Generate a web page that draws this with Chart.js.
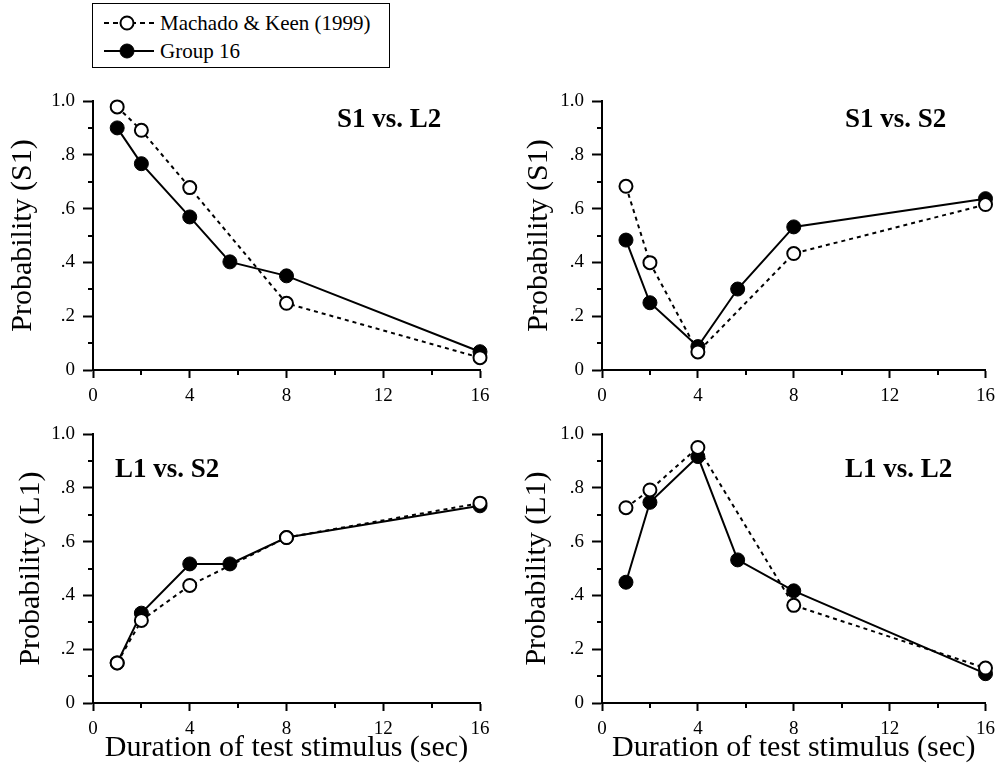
<!DOCTYPE html>
<html>
<head>
<meta charset="utf-8">
<script src="https://cdn.jsdelivr.net/npm/chart.js@4.4.0/dist/chart.umd.min.js"></script>
<style>
html, body { margin: 0; padding: 0; background: #fff; }
body { width: 1002px; height: 774px; position: relative; overflow: hidden;
       font-family: "Liberation Serif", "Times New Roman", serif; }
canvas { position: absolute; }
#legend { position: absolute; left: 92px; top: 3px; width: 296px; height: 63px;
          border: 1.5px solid #000; background: #fff; }
.lrow { position: absolute; left: 0; height: 24px; white-space: nowrap; }
.lrow svg { position: absolute; left: 9px; top: 2px; }
.lrow span { position: absolute; left: 67px; top: 0; font-size: 21px; line-height: 24px; color: #000; }
</style>
</head>
<body>
<div id="legend">
  <div class="lrow" style="top:7px">
    <svg width="54" height="20" viewBox="0 0 54 20">
      <line x1="2" y1="10" x2="52" y2="10" stroke="#000" stroke-width="2" stroke-dasharray="5,4"/>
      <circle cx="25" cy="10" r="6.5" fill="#fff" stroke="#000" stroke-width="2"/>
    </svg>
    <span id="leg0"></span>
  </div>
  <div class="lrow" style="top:35px">
    <svg width="54" height="20" viewBox="0 0 54 20">
      <line x1="2" y1="10" x2="52" y2="10" stroke="#000" stroke-width="2"/>
      <circle cx="25" cy="10" r="7" fill="#000" stroke="#000" stroke-width="1"/>
    </svg>
    <span id="leg1"></span>
  </div>
</div>
<canvas id="c0"></canvas>
<canvas id="c1"></canvas>
<canvas id="c2"></canvas>
<canvas id="c3"></canvas>
<script>
// ---------- data ----------
const seriesNames = ['Machado & Keen (1999)', 'Group 16'];
const durationsMK = [1, 2, 4, 8, 16];
const durationsG16 = [1, 2, 4, 5.66, 8, 16];

const panelTitles = ['S1 vs. L2', 'S1 vs. S2', 'L1 vs. S2', 'L1 vs. L2'];
const yAxisTitles = ['Probability (S1)', 'Probability (S1)', 'Probability (L1)', 'Probability (L1)'];
const xAxisTitle = 'Duration of test stimulus (sec)';

const xTickValues = [0, 4, 8, 12, 16];
const xTickLabels = ['0', '4', '8', '12', '16'];
const yTickValues = [0, 0.2, 0.4, 0.6, 0.8, 1.0];
const yTickLabels = ['0', '.2', '.4', '.6', '.8', '1.0'];
const xMinorTicks = [2, 6, 10, 14];
const yMinorTicks = [0.1, 0.3, 0.5, 0.7, 0.9];

const mkS1L2  = [0.978, 0.891, 0.678, 0.248, 0.046];
const g16S1L2 = [0.900, 0.767, 0.569, 0.402, 0.350, 0.068];

const mkS1S2  = [0.683, 0.399, 0.067, 0.433, 0.615];
const g16S1S2 = [0.483, 0.250, 0.087, 0.301, 0.532, 0.637];

const mkL1S2  = [0.149, 0.307, 0.437, 0.615, 0.743];
const g16L1S2 = [0.149, 0.334, 0.517, 0.517, 0.615, 0.733];

const mkL1L2  = [0.726, 0.792, 0.950, 0.363, 0.130];
const g16L1L2 = [0.449, 0.746, 0.916, 0.532, 0.417, 0.109];

// ---------- helpers ----------
document.getElementById('leg0').textContent = seriesNames[0];
document.getElementById('leg1').textContent = seriesNames[1];

const FONT = '"Liberation Serif", "Times New Roman", serif';
const toPoints = (xs, ys) => xs.map((x, i) => ({ x: x, y: ys[i] }));
const labelFor = (vals, labels) => (v) => {
  const i = vals.findIndex(t => Math.abs(t - v) < 1e-6);
  return i >= 0 ? labels[i] : '';
};

const minorTicksPlugin = {
  id: 'minorTicks',
  afterDraw(chart) {
    const ctx = chart.ctx, xs = chart.scales.x, ys = chart.scales.y, a = chart.chartArea;
    ctx.save();
    ctx.strokeStyle = '#000';
    ctx.lineWidth = 2;
    xMinorTicks.forEach(v => {
      const px = Math.round(xs.getPixelForValue(v));
      ctx.beginPath(); ctx.moveTo(px, a.bottom); ctx.lineTo(px, a.bottom + 5); ctx.stroke();
    });
    yMinorTicks.forEach(v => {
      const py = Math.round(ys.getPixelForValue(v));
      ctx.beginPath(); ctx.moveTo(a.left, py); ctx.lineTo(a.left - 5, py); ctx.stroke();
    });
    ctx.restore();
  }
};

const panelTitlePlugin = {
  id: 'panelTitle',
  afterDraw(chart, args, opts) {
    const ctx = chart.ctx;
    ctx.save();
    ctx.font = 'bold 27px ' + FONT;
    ctx.fillStyle = '#000';
    ctx.textBaseline = 'alphabetic';
    ctx.textAlign = 'left';
    ctx.fillText(opts.text, opts.x, opts.y);
    ctx.restore();
  }
};

// layout of each panel (canvas box, plot area, label offsets)
const panels = [
  { id: 'c0', mk: mkS1L2, g16: g16S1L2, left: 0,   top: 80,  w: 500, h: 330,
    plotLeft: 93,  plotRight: 480, plotTop: 101, plotBottom: 370, yTitlePad: 5,  showX: false,
    titleX: 337, titleY: 47 },
  { id: 'c1', mk: mkS1S2, g16: g16S1S2, left: 500, top: 80,  w: 502, h: 330,
    plotLeft: 602, plotRight: 988, plotTop: 101, plotBottom: 370, yTitlePad: 21, showX: false,
    titleX: 345, titleY: 47 },
  { id: 'c2', mk: mkL1S2, g16: g16L1S2, left: 0,   top: 410, w: 500, h: 364,
    plotLeft: 93,  plotRight: 480, plotTop: 434, plotBottom: 703, yTitlePad: 13, showX: true,
    titleX: 115, titleY: 67 },
  { id: 'c3', mk: mkL1L2, g16: g16L1L2, left: 500, top: 410, w: 502, h: 364,
    plotLeft: 602, plotRight: 988, plotTop: 434, plotBottom: 703, yTitlePad: 19, showX: true,
    titleX: 345, titleY: 67 }
];

panels.forEach((p, idx) => {
  const cv = document.getElementById(p.id);
  cv.width = p.w; cv.height = p.h;
  cv.style.left = p.left + 'px'; cv.style.top = p.top + 'px';
  cv.style.width = p.w + 'px'; cv.style.height = p.h + 'px';

  const yWidth = p.plotLeft - p.left;
  const xHeight = p.top + p.h - p.plotBottom;

  new Chart(cv, {
    type: 'line',
    data: {
      datasets: [
        { label: seriesNames[0], data: toPoints(durationsMK, p.mk),
          borderColor: '#000', borderWidth: 2, borderDash: [4, 4],
          pointRadius: 6.5, pointHoverRadius: 6.5, pointBackgroundColor: '#fff',
          pointBorderColor: '#000', pointBorderWidth: 2, tension: 0, clip: false, fill: false },
        { label: seriesNames[1], data: toPoints(durationsG16, p.g16),
          borderColor: '#000', borderWidth: 2,
          pointRadius: 7, pointHoverRadius: 7, pointBackgroundColor: '#000',
          pointBorderColor: '#000', pointBorderWidth: 1, tension: 0, clip: false, fill: false }
      ]
    },
    options: {
      responsive: false,
      animation: false,
      devicePixelRatio: 1,
      events: [],
      layout: { padding: { left: 0, top: p.plotTop - p.top, right: p.left + p.w - p.plotRight, bottom: 0 } },
      plugins: {
        legend: { display: false },
        tooltip: { enabled: false },
        panelTitle: { text: panelTitles[idx], x: p.titleX, y: p.titleY }
      },
      scales: {
        x: {
          type: 'linear', min: 0, max: 16,
          afterFit: (s) => { s.height = xHeight; },
          border: { display: true, color: '#000', width: 2 },
          grid: { display: true, drawOnChartArea: false, drawTicks: true, tickLength: 8,
                  tickWidth: 2, tickColor: '#000', color: '#000' },
          ticks: { stepSize: 4, autoSkip: false, maxRotation: 0, padding: 7, color: '#000',
                   font: { family: FONT, size: 19 }, callback: labelFor(xTickValues, xTickLabels) },
          title: { display: p.showX, text: xAxisTitle, color: '#000',
                   font: { family: FONT, size: 30 }, padding: { top: 0, bottom: 8 } }
        },
        y: {
          type: 'linear', min: 0, max: 1,
          afterFit: (s) => { s.width = yWidth; },
          border: { display: true, color: '#000', width: 2 },
          grid: { display: true, drawOnChartArea: false, drawTicks: true, tickLength: 10,
                  tickWidth: 2, tickColor: '#000', color: '#000' },
          ticks: { stepSize: 0.2, autoSkip: false, padding: 8, color: '#000',
                   font: { family: FONT, size: 19 }, callback: labelFor(yTickValues, yTickLabels) },
          title: { display: true, text: yAxisTitles[idx], color: '#000',
                   font: { family: FONT, size: 30 }, padding: { top: p.yTitlePad, bottom: 0 } }
        }
      }
    },
    plugins: [minorTicksPlugin, panelTitlePlugin]
  });
});
</script>
</body>
</html>
